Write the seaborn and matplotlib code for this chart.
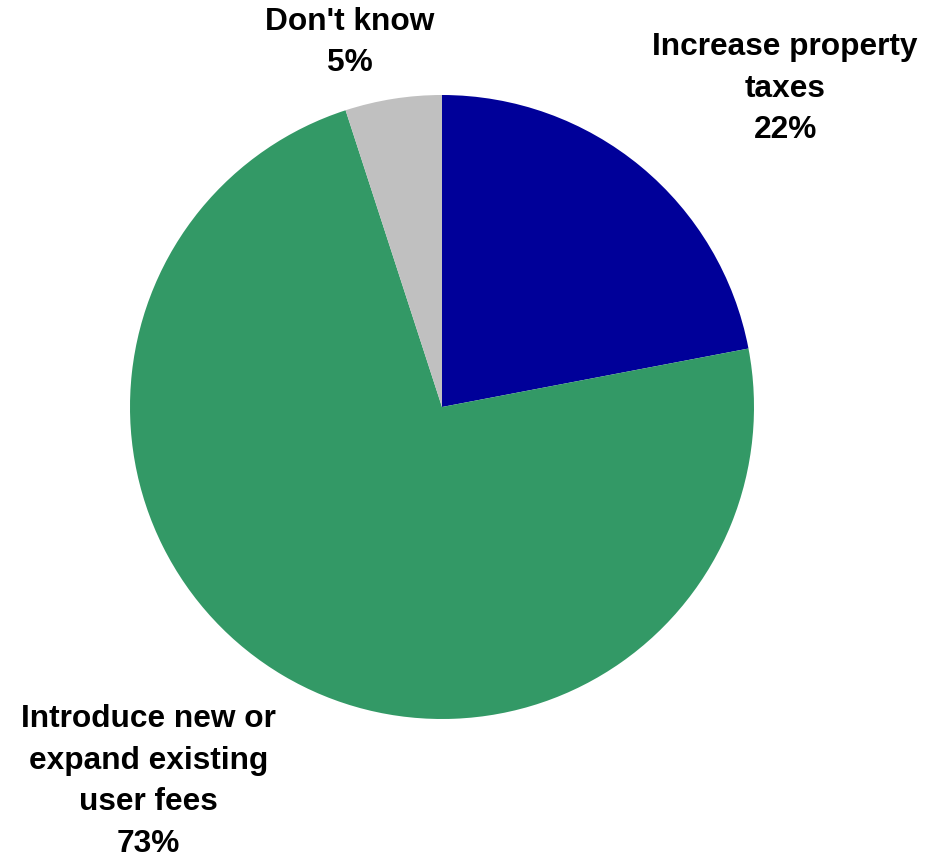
import matplotlib
matplotlib.use("Agg")
import matplotlib.pyplot as plt
import seaborn as sns

labels = ["Increase property\ntaxes", "Introduce new or\nexpand existing\nuser fees", "Don't know"]
shares = [22, 73, 5]
colors = ["#000099", "#339966", "#C0C0C0"]

# label anchor points (pie data units)
label_xy = [(1.10, 1.02), (-0.94, -1.20), (-0.295, 1.168)]

sns.set_theme(style="white")
plt.rcParams["font.family"] = ["Liberation Sans", "DejaVu Sans"]

fig = plt.figure(figsize=(9.26, 8.59), dpi=100)
ax = fig.add_axes([130 / 926, 140 / 859, 624 / 926, 624 / 859])

ax.pie(shares, colors=colors, startangle=90, counterclock=False,
       wedgeprops=dict(linewidth=0))
ax.set_xlim(-1, 1)
ax.set_ylim(-1, 1)
ax.set_aspect("equal")
ax.axis("off")

for lab, val, (x, y) in zip(labels, shares, label_xy):
    ax.text(x, y, f"{lab}\n{val}%", ha="center", va="center",
            fontsize=22.8, fontweight="bold", color="black",
            linespacing=1.5, clip_on=False)

fig.savefig("out.png", dpi=100)
